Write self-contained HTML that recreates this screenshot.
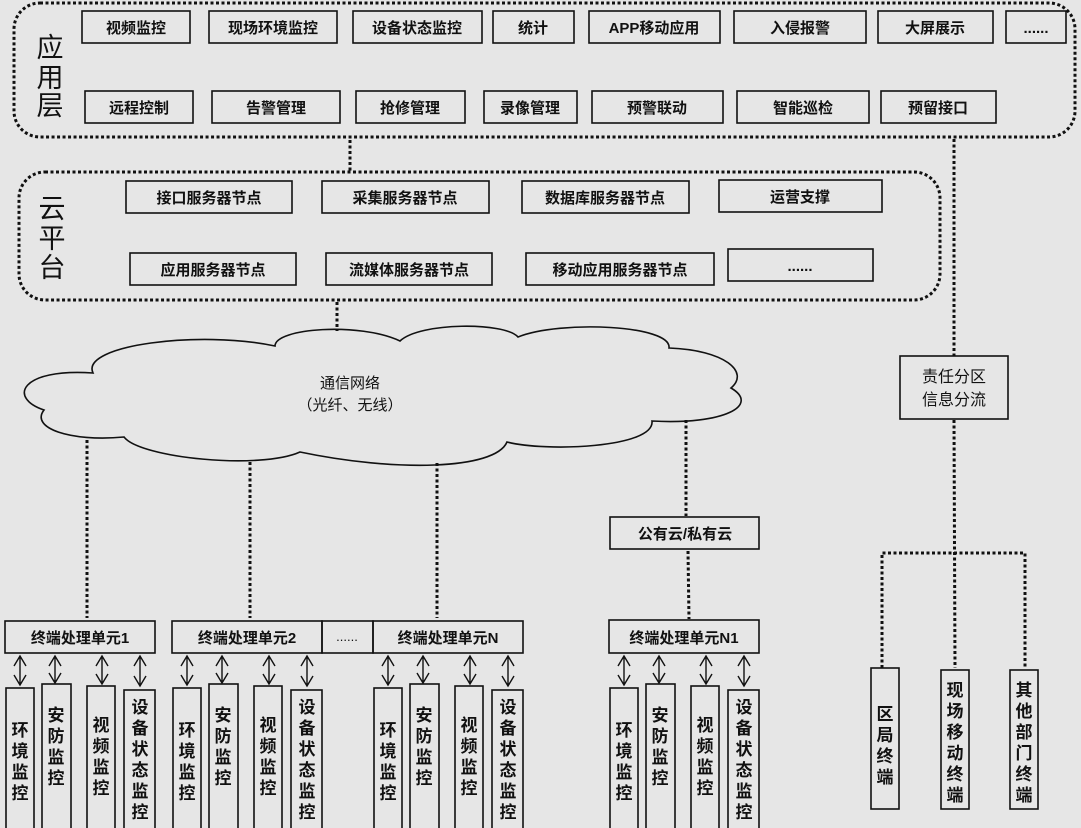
<!DOCTYPE html>
<html><head><meta charset="utf-8"><style>
html,body{margin:0;padding:0;background:#e6e6e6;}
svg{display:block;}
text{font-family:"Liberation Sans","Noto Sans CJK SC",sans-serif;fill:#111;}
.b{font-weight:bold;font-size:15px;}
.r{fill:none;stroke:#111;stroke-width:1.6;}
.d{fill:none;stroke:#111;stroke-width:3;stroke-dasharray:3,2.5;}
.v{font-weight:bold;font-size:17px;}
.a{fill:none;stroke:#111;stroke-width:1.4;}
</style></head><body>
<svg width="1081" height="828" viewBox="0 0 1081 828" xmlns="http://www.w3.org/2000/svg">
<rect width="1081" height="828" fill="#e6e6e6"/>
<!-- app layer -->
<rect class="d" x="14" y="3" width="1061" height="134" rx="26"/>
<text x="50" y="57" font-size="27" text-anchor="middle">应</text>
<text x="50" y="87" font-size="27" text-anchor="middle">用</text>
<text x="50" y="115" font-size="27" text-anchor="middle">层</text>
<g class="b" text-anchor="middle">
<rect class="r" x="82" y="11" width="108" height="32"/><text x="136" y="33">视频监控</text>
<rect class="r" x="209" y="11" width="128" height="32"/><text x="273" y="33">现场环境监控</text>
<rect class="r" x="353" y="11" width="129" height="32"/><text x="417" y="33">设备状态监控</text>
<rect class="r" x="493" y="11" width="81" height="32"/><text x="533" y="33">统计</text>
<rect class="r" x="589" y="11" width="131" height="32"/><text x="654" y="33">APP移动应用</text>
<rect class="r" x="734" y="11" width="132" height="32"/><text x="800" y="33">入侵报警</text>
<rect class="r" x="878" y="11" width="115" height="32"/><text x="935" y="33">大屏展示</text>
<rect class="r" x="1006" y="11" width="60" height="32"/><text x="1036" y="33">......</text>
<rect class="r" x="85" y="91" width="108" height="32"/><text x="139" y="113">远程控制</text>
<rect class="r" x="212" y="91" width="128" height="32"/><text x="276" y="113">告警管理</text>
<rect class="r" x="356" y="91" width="109" height="32"/><text x="410" y="113">抢修管理</text>
<rect class="r" x="484" y="91" width="93" height="32"/><text x="530" y="113">录像管理</text>
<rect class="r" x="592" y="91" width="131" height="32"/><text x="657" y="113">预警联动</text>
<rect class="r" x="737" y="91" width="132" height="32"/><text x="803" y="113">智能巡检</text>
<rect class="r" x="881" y="91" width="115" height="32"/><text x="938" y="113">预留接口</text>
</g>
<line class="d" x1="350" y1="140" x2="350" y2="172"/>
<!-- cloud platform -->
<rect class="d" x="19" y="172" width="921" height="128" rx="26"/>
<text x="52" y="218" font-size="27" text-anchor="middle">云</text>
<text x="52" y="248" font-size="27" text-anchor="middle">平</text>
<text x="52" y="277" font-size="27" text-anchor="middle">台</text>
<g class="b" text-anchor="middle">
<rect class="r" x="126" y="181" width="166" height="32"/><text x="209" y="203">接口服务器节点</text>
<rect class="r" x="322" y="181" width="167" height="32"/><text x="405" y="203">采集服务器节点</text>
<rect class="r" x="522" y="181" width="167" height="32"/><text x="605" y="203">数据库服务器节点</text>
<rect class="r" x="719" y="180" width="163" height="32"/><text x="800" y="202">运营支撑</text>
<rect class="r" x="130" y="253" width="166" height="32"/><text x="213" y="275">应用服务器节点</text>
<rect class="r" x="326" y="253" width="166" height="32"/><text x="409" y="275">流媒体服务器节点</text>
<rect class="r" x="526" y="253" width="188" height="32"/><text x="620" y="275">移动应用服务器节点</text>
<rect class="r" x="728" y="249" width="145" height="32"/><text x="800" y="271">......</text>
</g>
<line class="d" x1="337" y1="302" x2="337" y2="331"/>
<!-- cloud -->
<path class="r" d="M93,373 C80,345 200,330 275,346 C275,328 360,322 400,341 C420,322 505,322 518,337 C560,320 672,325 669,348 C725,350 750,372 731,388 C760,405 725,425 652,421 C655,448 545,452 507,442 C495,470 395,472 300,452 C260,470 140,458 124,437 C70,442 30,428 44,410 C8,398 20,368 93,373 Z"/>
<text x="350" y="388" font-size="15" text-anchor="middle">通信网络</text>
<text x="350" y="410" font-size="15" text-anchor="middle">（光纤、无线）</text>
<!-- right branch -->
<line class="d" x1="954" y1="139" x2="954" y2="356"/>
<rect class="r" x="900" y="356" width="108" height="63"/>
<text x="954" y="382" font-size="16" text-anchor="middle">责任分区</text>
<text x="954" y="405" font-size="16" text-anchor="middle">信息分流</text>
<line class="d" x1="954" y1="420" x2="955" y2="668"/>
<path class="d" d="M882,668 L882,553 L1025,553 L1025,668"/>
<g class="v" text-anchor="middle">
<rect class="r" x="871" y="668" width="28" height="141"/>
<text x="885" y="720">区</text><text x="885" y="741">局</text><text x="885" y="762">终</text><text x="885" y="783">端</text>
<rect class="r" x="941" y="670" width="28" height="139"/>
<text x="955" y="696">现</text><text x="955" y="717">场</text><text x="955" y="738">移</text><text x="955" y="759">动</text><text x="955" y="780">终</text><text x="955" y="801">端</text>
<rect class="r" x="1010" y="670" width="28" height="139"/>
<text x="1024" y="696">其</text><text x="1024" y="717">他</text><text x="1024" y="738">部</text><text x="1024" y="759">门</text><text x="1024" y="780">终</text><text x="1024" y="801">端</text>
</g>
<!-- cloud down lines -->
<line class="d" x1="87" y1="440" x2="87" y2="618"/>
<line class="d" x1="250" y1="462" x2="250" y2="618"/>
<line class="d" x1="437" y1="463" x2="437" y2="618"/>
<line class="d" x1="686" y1="420" x2="686" y2="516"/>
<rect class="r" x="610" y="517" width="149" height="32"/>
<text class="b" x="685" y="539" text-anchor="middle">公有云/私有云</text>
<line class="d" x1="688" y1="551" x2="689" y2="619"/>
<!-- terminal units -->
<g class="b" text-anchor="middle">
<rect class="r" x="5" y="621" width="150" height="32"/><text x="80" y="643">终端处理单元1</text>
<rect class="r" x="172" y="621" width="150" height="32"/><text x="247" y="643">终端处理单元2</text>
<rect class="r" x="322" y="621" width="51" height="32"/><text x="347" y="641" font-weight="normal" font-size="13">......</text>
<rect class="r" x="373" y="621" width="150" height="32"/><text x="448" y="643">终端处理单元N</text>
<rect class="r" x="609" y="620" width="150" height="33"/><text x="684" y="643">终端处理单元N1</text>
</g>
<g id="grp">
<path class="a" d="M20,656 L20,685 M14,666 L20,656 L26,666 M14,675 L20,685 L26,675"/>
<path class="a" d="M55,656 L55,683 M49,666 L55,656 L61,666 M49,673 L55,683 L61,673"/>
<path class="a" d="M102,656 L102,684 M96,666 L102,656 L108,666 M96,674 L102,684 L108,674"/>
<path class="a" d="M140,656 L140,686 M134,666 L140,656 L146,666 M134,676 L140,686 L146,676"/>
<g class="v" text-anchor="middle">
<rect class="r" x="6" y="688" width="28" height="150"/>
<text x="20" y="736">环</text><text x="20" y="757">境</text><text x="20" y="778">监</text><text x="20" y="799">控</text>
<rect class="r" x="42" y="684" width="29" height="150"/>
<text x="56" y="721">安</text><text x="56" y="742">防</text><text x="56" y="763">监</text><text x="56" y="784">控</text>
<rect class="r" x="87" y="686" width="28" height="150"/>
<text x="101" y="731">视</text><text x="101" y="752">频</text><text x="101" y="773">监</text><text x="101" y="794">控</text>
<rect class="r" x="124" y="690" width="31" height="150"/>
<text x="140" y="713">设</text><text x="140" y="734">备</text><text x="140" y="755">状</text><text x="140" y="776">态</text><text x="140" y="797">监</text><text x="140" y="818">控</text>
</g>
</g>
<use href="#grp" x="167"/>
<use href="#grp" x="368"/>
<use href="#grp" x="604"/>
</svg>
</body></html>
